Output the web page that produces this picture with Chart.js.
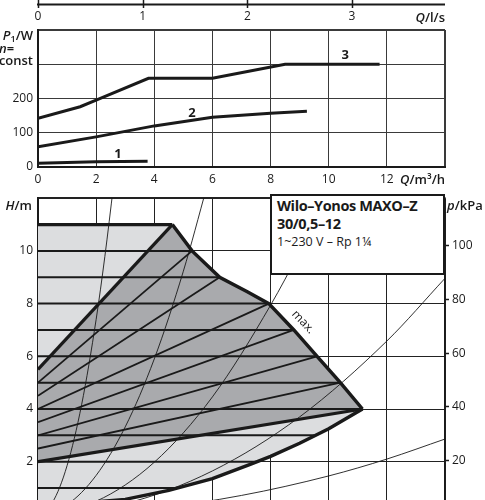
<!DOCTYPE html>
<html><head><meta charset="utf-8">
<script src="https://cdn.jsdelivr.net/npm/chart.js@4.4.1/dist/chart.umd.min.js"></script>
<style>
html,body{margin:0;padding:0;width:485px;height:500px;overflow:hidden;background:#fff;}
#wrap{position:relative;width:485px;height:500px;overflow:hidden;font-family:"Open Sans",sans-serif;color:#1a1a1a;}
canvas{position:absolute;left:0;}
#c1{top:0}
#c2{top:186px}
.t{position:absolute;white-space:nowrap;font-size:13px;font-weight:600;line-height:1;transform:translateY(-50%);}
.t i{font-style:italic;}
#box{position:absolute;left:270px;top:194px;width:175px;height:81px;box-sizing:border-box;border:2px solid #1a1a1a;background:#fff;}
#box div{position:absolute;left:5px;white-space:nowrap;line-height:1;transform:translateY(-50%);}
</style></head>
<body><div id="wrap">
<canvas id="c1" width="485" height="190"></canvas>
<canvas id="c2" width="485" height="360"></canvas>
<div class="t" style="right:452px;top:36px"><i>P</i><sub style="font-size:9px;vertical-align:-2px">1</sub>/W</div>
<div class="t" style="left:-1px;top:48px"><i>n</i>=</div>
<div class="t" style="right:452px;top:60px">const</div>
<div class="t" style="right:40px;top:17px"><i>Q</i>/l/s</div>
<div class="t" style="right:40px;top:179px"><i>Q</i>/m³/h</div>
<div class="t" style="right:453px;top:205px"><i>H</i>/m</div>
<div class="t" style="left:447px;top:205px"><i>p</i>/kPa</div>
<div id="box">
  <div style="top:10px;font-size:14.5px;font-weight:700;letter-spacing:-0.4px">Wilo–Yonos MAXO–Z</div>
  <div style="top:28px;font-size:14.5px;font-weight:700;letter-spacing:-0.4px">30/0,5–12</div>
  <div style="top:46px;font-size:12.5px;font-weight:400">1~230 V – Rp 1¼</div>
</div>
</div>
<script>
// ---------- top chart data (P1 vs Q) ----------
const qTicksM3h = [0, 2, 4, 6, 8, 10, 12];
const qTicksLs = [0, 1, 2, 3];
const pTicksW = [0, 100, 200];
const speed3Q = [0, 1.45, 2.02, 3.8, 6.0, 8.5, 11.75];
const speed3P = [142, 176, 196, 259, 259, 300, 300];
const speed2Q = [0, 2, 4, 6, 8, 9.25];
const speed2P = [59, 88, 120, 145, 157, 163];
const speed1Q = [0, 2, 3.77];
const speed1P = [11, 15, 17];

// ---------- bottom chart data (H vs Q) ----------
const hTicks = [2, 4, 6, 8, 10];
const kPaTicks = [20, 40, 60, 80, 100];
const maxQ = [4.62, 5.3, 6.25, 7.2, 7.94, 8.8, 9.6, 10.4, 11.16];
const maxH = [11, 10, 9, 8.45, 8, 7, 6, 5, 4];
const minQ = [0, 3, 4.5, 6, 7.3, 8, 9, 10, 11.16];
const minH = [0.3, 0.57, 0.91, 1.36, 1.9, 2.2, 2.7, 3.25, 4.0];
const dpcH = [1, 2, 3, 4, 5, 6, 7, 8, 9, 10, 11];
const dpcEndQ = [4.84, 7.57, 9.5, 11.16, 10.4, 9.6, 8.8, 7.94, 6.25, 5.3, 4.62];
const dpvSet = [4, 5, 6, 7, 8, 9, 10, 11];
const dpvStartH = [2, 2.5, 3, 3.5, 4, 4.5, 5, 5.5];
const dpvEndQ = [11.16, 10.4, 9.6, 8.8, 7.94, 6.25, 5.3, 4.62];
const sysAQ = [0, 0.5, 1, 1.5, 2, 2.3, 2.6];
const sysAH = [0, 0.46, 1.85, 4.16, 7.4, 9.79, 12.5];
const sysBQ = [0, 1, 2, 3, 4, 5, 5.8];
const sysBH = [0, 0.37, 1.48, 3.32, 5.9, 9.23, 12.4];
const sysCQ = [0, 2, 4, 6, 8, 9, 10];
const sysCH = [0, 0.5, 1.98, 4.46, 7.94, 10.0, 12.4];
const sysDQ = [0, 3, 6, 9, 12, 14];
const sysDH = [0, 0.41, 1.65, 3.7, 6.58, 8.96];
const sysEQ = [0, 4, 7, 10, 12, 14];
const sysEH = [0, 0.23, 0.72, 1.46, 2.1, 2.86];

const INK = '#1a1a1a';
const LIGHT = '#dcdddf';
const DARK = '#a9aaad';
Chart.defaults.font.family = "'Open Sans', sans-serif";
Chart.defaults.font.size = 12;
Chart.defaults.color = INK;

const pts = (qs, vs) => qs.map((q, i) => ({x: q, y: vs[i]}));

const tagPlugin = {
  id: 'tags',
  afterDatasetsDraw(chart, args, opts) {
    const {ctx, scales: {x, y}} = chart;
    (opts.items || []).forEach(it => {
      ctx.save();
      ctx.translate(x.getPixelForValue(it.q), y.getPixelForValue(it.v));
      ctx.rotate((it.rot || 0) * Math.PI / 180);
      ctx.font = it.font;
      ctx.fillStyle = INK;
      ctx.textAlign = 'center';
      ctx.textBaseline = 'middle';
      ctx.fillText(it.text, 0, 0);
      ctx.restore();
    });
  }
};

const lsAxisPlugin = {
  id: 'lsAxis',
  afterDraw(chart) {
    const s = chart.scales.x2;
    if (!s) return;
    const ctx = chart.ctx;
    ctx.save();
    ctx.strokeStyle = INK;
    ctx.lineWidth = 2;
    ctx.beginPath();
    ctx.moveTo(chart.chartArea.left - 1, 4.5);
    ctx.lineTo(chart.chartArea.right, 4.5);
    ctx.stroke();
    ctx.lineWidth = 1.5;
    s.ticks.forEach(t => {
      if (!qTicksLs.includes(t.value)) return;
      const px = Math.round(s.getPixelForValue(t.value)) + 0.5;
      ctx.beginPath(); ctx.moveTo(px, 0); ctx.lineTo(px, 8); ctx.stroke();
    });
    ctx.restore();
  }
};

const lineDs = (data, width, extra) => Object.assign({
  data, borderColor: INK, borderWidth: width, pointRadius: 0, tension: 0, fill: false, order: 0
}, extra || {});

// ---------- top chart ----------
new Chart(document.getElementById('c1'), {
  type: 'line',
  data: {datasets: [
    lineDs(pts(speed3Q, speed3P), 3),
    lineDs(pts(speed2Q, speed2P), 3),
    lineDs(pts(speed1Q, speed1P), 3)
  ]},
  options: {
    responsive: false, animation: false, events: [],
    layout: {padding: {top: 0, right: 40, left: 0, bottom: 0}},
    plugins: {legend: {display: false}, tooltip: {enabled: false},
      tags: {items: [
        {text: '1', q: 2.75, v: 38, font: "700 13px 'Open Sans'"},
        {text: '2', q: 5.3, v: 158, font: "700 13px 'Open Sans'"},
        {text: '3', q: 10.57, v: 327, font: "700 13px 'Open Sans'"}
      ]}},
    scales: {
      x: {type: 'linear', position: 'bottom', min: 0, max: 14,
        ticks: {stepSize: 2, padding: 5, callback: v => qTicksM3h.includes(v) ? String(v) : ''},
        grid: {color: '#3a3a3a', lineWidth: c => (c.tick && c.tick.value === 14) ? 2 : 1, drawTicks: false},
        border: {color: INK, width: 2},
        afterFit: s => { s.height = 23; }},
      x2: {type: 'linear', position: 'top', min: 0, max: 14 / 3.6,
        ticks: {stepSize: 1, padding: 6, includeBounds: false, autoSkip: false,
          callback: v => qTicksLs.includes(v) ? String(v) : ''},
        grid: {drawOnChartArea: false, drawTicks: false},
        border: {display: false},
        afterFit: s => { s.height = 30; }},
      y: {type: 'linear', min: 0, max: 400,
        ticks: {stepSize: 100, padding: 5, callback: v => pTicksW.includes(v) ? String(v) : ''},
        grid: {color: '#3a3a3a', lineWidth: c => (c.tick && c.tick.value === 400) ? 2 : 1, drawTicks: false},
        border: {color: INK, width: 2},
        afterFit: s => { s.width = 38; }}
    }
  },
  plugins: [tagPlugin, lsAxisPlugin]
});

// ---------- bottom chart ----------
const maxPts = pts(maxQ, maxH);
const minPts = pts(minQ, minH);
const lightShape = [{x: 0, y: dpcH[10]}].concat(maxPts, minPts.slice().reverse());
const darkShape = [{x: 0, y: dpvStartH[7]}].concat(maxPts, [{x: 0, y: dpvStartH[0]}]);

const ds = [];
ds.push({data: lightShape, fill: 'shape', backgroundColor: LIGHT, borderWidth: 0, borderColor: 'rgba(0,0,0,0)', pointRadius: 0, tension: 0, order: 20});
ds.push({data: darkShape, fill: 'shape', backgroundColor: DARK, borderWidth: 0, borderColor: 'rgba(0,0,0,0)', pointRadius: 0, tension: 0, order: 19});
// constant-pressure lines
dpcH.forEach((h, i) => {
  ds.push(lineDs([{x: 0, y: h}, {x: dpcEndQ[i], y: h}], h === 11 ? 3.2 : 2, {order: 5}));
});
// variable-pressure lines
dpvSet.forEach((s, i) => {
  const thick = (i === 0 || i === dpvSet.length - 1);
  ds.push(lineDs([{x: 0, y: dpvStartH[i]}, {x: dpvEndQ[i], y: s}], thick ? 3.2 : 1.8, {order: thick ? 2 : 5}));
});
// max / min curves
ds.push(lineDs(maxPts, 3.5, {order: 1}));
ds.push(lineDs(minPts, 3.5, {order: 1}));
// system curves
[[sysAQ, sysAH], [sysBQ, sysBH], [sysCQ, sysCH], [sysDQ, sysDH], [sysEQ, sysEH]].forEach(([q, h]) => {
  ds.push(lineDs(pts(q, h), 0.9, {cubicInterpolationMode: 'monotone', order: 3}));
});

new Chart(document.getElementById('c2'), {
  type: 'line',
  data: {datasets: ds},
  options: {
    responsive: false, animation: false, events: [],
    layout: {padding: {top: 8, right: 0, left: 0, bottom: 0}},
    plugins: {legend: {display: false}, tooltip: {enabled: false},
      tags: {items: [
        {text: 'max.', q: 9.12, v: 7.3, rot: 47, font: "400 12px 'Open Sans'"}
      ]}},
    scales: {
      x: {type: 'linear', position: 'bottom', min: 0, max: 14, z: 1,
        ticks: {stepSize: 2, padding: 5, callback: v => qTicksM3h.includes(v) ? String(v) : ''},
        grid: {color: '#222', lineWidth: c => (c.tick && c.tick.value === 14) ? 2 : 1, drawTicks: false},
        border: {color: INK, width: 2},
        afterFit: s => { s.height = 31.6; }},
      y: {type: 'linear', position: 'left', min: 0, max: 12, z: 1,
        ticks: {stepSize: 2, padding: 5, callback: v => hTicks.includes(v) ? String(v) : ''},
        grid: {color: '#222', lineWidth: c => (c.tick && c.tick.value === 12) ? 2 : 1, drawTicks: false},
        border: {color: INK, width: 2},
        afterFit: s => { s.width = 38; }},
      y2: {type: 'linear', position: 'right', min: 0, max: 12 * 9.81,
        ticks: {stepSize: 20, padding: 3, callback: v => kPaTicks.includes(v) ? String(v) : ''},
        grid: {drawOnChartArea: false, tickLength: 4, tickWidth: 1.5,
          tickColor: c => (c.tick && kPaTicks.includes(c.tick.value)) ? INK : 'rgba(0,0,0,0)'},
        border: {color: INK, width: 1.5},
        afterFit: s => { s.width = 40; }}
    }
  },
  plugins: [tagPlugin]
});
</script>
</body></html>
